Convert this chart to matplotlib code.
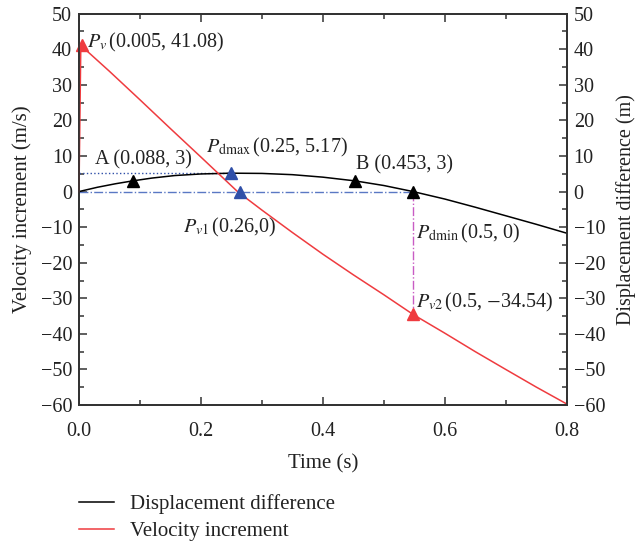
import numpy as np
import matplotlib
matplotlib.use('Agg')
import matplotlib.pyplot as plt
from matplotlib.ticker import MultipleLocator
from matplotlib.lines import Line2D

plt.rcParams['font.family'] = ['Liberation Serif', 'DejaVu Serif']
plt.rcParams['mathtext.fontset'] = 'stix'
plt.rcParams['font.size'] = 14.5

###############################################################################
# data

t_disp = [0.0, 0.03, 0.06, 0.088, 0.12, 0.157, 0.2, 0.25, 0.3, 0.35, 0.4,
          0.453, 0.5, 0.548, 0.6, 0.65, 0.7, 0.75, 0.8]
disp = [0.0, 1.2, 2.2, 3.0, 3.8, 4.5, 4.95, 5.17, 5.1, 4.75, 4.05,
        3.0, 1.7, 0.0, -2.1, -4.4, -6.8, -9.2, -11.7]

t_vel = [0.0, 0.003, 0.05, 0.1, 0.15, 0.2, 0.26, 0.3, 0.35, 0.4, 0.45,
         0.5, 0.548, 0.6, 0.65, 0.7, 0.75, 0.8]
vel = [0.0, 41.08, 33.8, 25.8, 17.7, 9.7, 0.0, -5.2, -11.5, -17.6, -23.4,
       -29.0, -34.54, -39.8, -45.0, -50.0, -54.95, -59.7]

# key points (x, y) and their labels
pv = (0.005, 41.08)
pv1 = (0.264, 0.0)
pv2 = (0.548, -34.54)
pdmax = (0.25, 5.17)
pdmin = (0.548, 0.0)
ptA = (0.088, 3.0)
ptB = (0.453, 3.0)

lab_pv = r'$P_v\,$(0.005, 41.08)'
lab_pv1 = r'$P_{v1}\,$(0.26,0)'
lab_pv2 = r'$P_{v2}\,$(0.5, $-$34.54)'
lab_pdmax = r'$P_{\rm dmax}\,$(0.25, 5.17)'
lab_pdmin = r'$P_{\rm dmin}\,$(0.5, 0)'
lab_A = 'A (0.088, 3)'
lab_B = 'B (0.453, 3)'

###############################################################################

red = '#ef3b3f'
blue = '#2f4fa8'
grey = '#333333'

fig = plt.figure(figsize=(6.4, 5.43), dpi=100)
ax = fig.add_axes([0.1234, 0.2541, 0.7621, 0.7207])
ax2 = ax.twinx()

# guide lines
ax.plot([0, pdmax[0]], [pdmax[1], pdmax[1]], color=blue, ls=':', lw=1.0)
ax.plot([0, pdmin[0]], [0, 0], color='#5a78c4', ls='-.', lw=1.0)
ax.plot([pdmin[0], pv2[0]], [pdmin[1], pv2[1]], color='#c95cc4', ls='-.', lw=1.0)

ax.plot(t_disp, disp, color='black', lw=1.1, zorder=3)
ax.plot(t_vel, vel, color=red, lw=1.1, zorder=3, clip_on=False)

ms = 8
for p, c in [(pv, red), (pv2, red), (pdmax, blue), (pv1, blue),
             (ptA, 'black'), (ptB, 'black'), (pdmin, 'black')]:
    ax.plot(p[0], p[1], marker='^', color=c, ms=ms, zorder=5, clip_on=False)

tc = '#222222'
ax.text(0.013, 42.0, lab_pv, ha='left', va='center', color=tc)
ax.text(0.026, 8.9, lab_A, ha='left', va='center', color=tc)
ax.text(0.209, 12.3, lab_pdmax, ha='left', va='center', color=tc)
ax.text(0.455, 7.5, lab_B, ha='left', va='center', color=tc)
ax.text(0.170, -10.2, lab_pv1, ha='left', va='center', color=tc)
ax.text(0.553, -11.7, lab_pdmin, ha='left', va='center', color=tc)
ax.text(0.553, -31.3, lab_pv2, ha='left', va='center', color=tc)

for a in (ax, ax2):
    a.set_xlim(0, 0.8)
    a.set_ylim(-60, 50)
    a.yaxis.set_major_locator(MultipleLocator(10))
    a.yaxis.set_minor_locator(MultipleLocator(5))
    for s in a.spines.values():
        s.set_linewidth(1.3)
        s.set_color(grey)
    a.tick_params(which='both', direction='in', colors=grey, labelcolor=tc,
                  labelsize=14.5, width=1.1)
    a.tick_params(which='major', length=6)
    a.tick_params(which='minor', length=3.5)

ax.xaxis.set_major_locator(MultipleLocator(0.2))
ax.xaxis.set_minor_locator(MultipleLocator(0.1))
ax.xaxis.set_major_formatter(matplotlib.ticker.FormatStrFormatter('%.1f'))
ax.tick_params(axis='x', which='both', top=True)
ax.tick_params(axis='x', pad=12)
ax.tick_params(axis='y', pad=5)
ax2.tick_params(axis='y', pad=5)

ax.set_xlabel('Time (s)', fontsize=15, color=tc, labelpad=10)
ax.set_ylabel('Velocity increment (m/s)', fontsize=15, color=tc, labelpad=6)
ax2.set_ylabel('Displacement difference (m)', fontsize=14.5, color=tc, labelpad=8)

handles = [Line2D([], [], color='black', lw=1.1), Line2D([], [], color=red, lw=1.1)]
fig.legend(handles, ['Displacement difference', 'Velocity increment'],
           loc='upper left', bbox_to_anchor=(0.123, 0.09), frameon=False,
           fontsize=15, handlelength=1.7, handletextpad=0.75, labelspacing=0.35,
           borderpad=0, borderaxespad=0, labelcolor=tc)

fig.savefig('out.png', dpi=100)
